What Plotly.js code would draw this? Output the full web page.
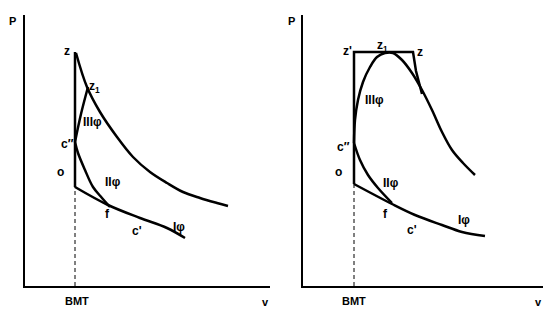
<!DOCTYPE html>
<html>
<head>
<meta charset="utf-8">
<script src="https://cdn.plot.ly/plotly-3.0.1.min.js"></script>
<style>html,body{margin:0;padding:0;background:#fff;}#chart{width:555px;height:313px;}</style>
</head>
<body>
<div id="chart"></div>
<script>
// ---------- Left diagram (a) ----------
const leftBMT_x = [50, 50];
const leftBMT_y = [0, 99];
const leftVert_x = [50, 50];
const leftVert_y = [99, 234];
const leftExp_x = [51, 62, 75, 92, 108, 125, 142, 158, 175, 192, 203];
const leftExp_y = [233, 199, 174, 149, 129, 114, 103, 94, 88, 83, 80];
const leftIII_x = [50, 56, 63];
const leftIII_y = [144, 172, 199];
const leftII_x = [50, 53, 60, 68, 77, 85];
const leftII_y = [144, 133, 116, 99, 88, 79];
const leftI_x = [50, 83, 115, 142, 160];
const leftI_y = [99, 81, 68, 58, 48];

// ---------- Right diagram (b) ----------
const rightBMT_x = [51, 51];
const rightBMT_y = [0, 102];
const rightFrame_x = [51, 51, 110, 113, 119];
const rightFrame_y = [102, 234, 234, 215, 192];
const rightIII_x = [51, 52, 55, 60, 67, 74, 82, 90, 99, 109, 119, 129, 139, 149, 160, 172];
const rightIII_y = [143, 166, 186, 204, 219, 229, 233, 233, 226, 213, 196, 176, 154, 136, 123, 111];
const rightII_x = [51, 57, 65, 75, 89];
const rightII_y = [143, 126, 111, 98, 83];
const rightI_x = [51, 89, 112, 139, 159, 182];
const rightI_y = [102, 82, 71, 61, 54, 50];

// ---------- Labels ----------
const leftLabelText = ["z", "z<sub>1</sub>", "IIIφ", "c″", "o", "IIφ", "f", "c'", "Iφ"];
const leftLabelX = [42, 69, 67, 42, 35, 88, 82, 112, 154];
const leftLabelY = [235, 199, 164, 142, 114, 104, 72, 55, 59];
const rightLabelText = ["z'", "z<sub>1</sub>", "z", "IIIφ", "c″", "o", "IIφ", "f", "c'", "Iφ"];
const rightLabelX = [44, 79, 117, 71, 40, 35, 88, 82, 109, 161];
const rightLabelY = [235, 240, 234, 186, 139, 114, 103, 72, 56, 66];
const axisLabels = ["P", "v", "BMT"];

const black = "#000";
const thick = {color: black, width: 2.5};
function tr(x, y, xa, ya, line, shape) {
  return {x: x, y: y, xaxis: xa, yaxis: ya, mode: "lines", type: "scatter",
          line: Object.assign({shape: shape || "linear", smoothing: 1}, line),
          hoverinfo: "skip", showlegend: false, cliponaxis: false};
}
const data = [
  tr(leftBMT_x, leftBMT_y, "x", "y", {color: black, width: 1, dash: "4px,3px"}),
  tr(leftVert_x, leftVert_y, "x", "y", thick),
  tr(leftExp_x, leftExp_y, "x", "y", thick, "spline"),
  tr(leftIII_x, leftIII_y, "x", "y", thick, "spline"),
  tr(leftII_x, leftII_y, "x", "y", thick, "spline"),
  tr(leftI_x, leftI_y, "x", "y", thick, "spline"),
  tr(rightBMT_x, rightBMT_y, "x2", "y2", {color: black, width: 1, dash: "4px,3px"}),
  tr(rightFrame_x, rightFrame_y, "x2", "y2", thick),
  tr(rightIII_x, rightIII_y, "x2", "y2", thick, "spline"),
  tr(rightII_x, rightII_y, "x2", "y2", thick, "spline"),
  tr(rightI_x, rightI_y, "x2", "y2", thick, "spline")
];

const fnt = {family: "Liberation Sans, Arial, sans-serif", size: 12, color: black};
function ann(t, x, y, xr, yr, size) {
  return {text: "<b>" + t + "</b>", x: x, y: y, xref: xr, yref: yr, showarrow: false,
          font: Object.assign({}, fnt, {size: size || 12}), xanchor: "center", yanchor: "middle"};
}
const annotations = [];
leftLabelText.forEach((t, i) => annotations.push(ann(t, leftLabelX[i], leftLabelY[i], "x", "y")));
rightLabelText.forEach((t, i) => annotations.push(ann(t, rightLabelX[i], rightLabelY[i], "x2", "y2")));
// axis labels (paper coordinates, pixel positions / figure size)
const W = 555, H = 313;
function pann(t, px, py) { return ann(t, px / W, 1 - py / H, "paper", "paper", 11); }
annotations.push(pann(axisLabels[0], 12, 21));
annotations.push(pann(axisLabels[1], 265, 302));
annotations.push(pann(axisLabels[2], 77, 301));
annotations.push(pann(axisLabels[0], 291, 21));
annotations.push(pann(axisLabels[1], 538, 302));
annotations.push(pann(axisLabels[2], 354, 301));

const ax = {showline: true, linecolor: black, linewidth: 2, showgrid: false, zeroline: false,
            showticklabels: false, ticks: "", fixedrange: true};
const layout = {
  width: W, height: H,
  margin: {l: 0, r: 0, t: 0, b: 0},
  paper_bgcolor: "#fff", plot_bgcolor: "#fff",
  showlegend: false,
  xaxis: Object.assign({}, ax, {domain: [25/555, 270/555], range: [0, 245]}),
  yaxis: Object.assign({}, ax, {domain: [27/313, 298/313], range: [0, 271]}),
  xaxis2: Object.assign({}, ax, {domain: [303/555, 543/555], range: [0, 240], anchor: "y2"}),
  yaxis2: Object.assign({}, ax, {domain: [27/313, 298/313], range: [0, 271], anchor: "x2"}),
  annotations: annotations
};
Plotly.newPlot("chart", data, layout, {staticPlot: true, displayModeBar: false});
</script>
</body>
</html>
